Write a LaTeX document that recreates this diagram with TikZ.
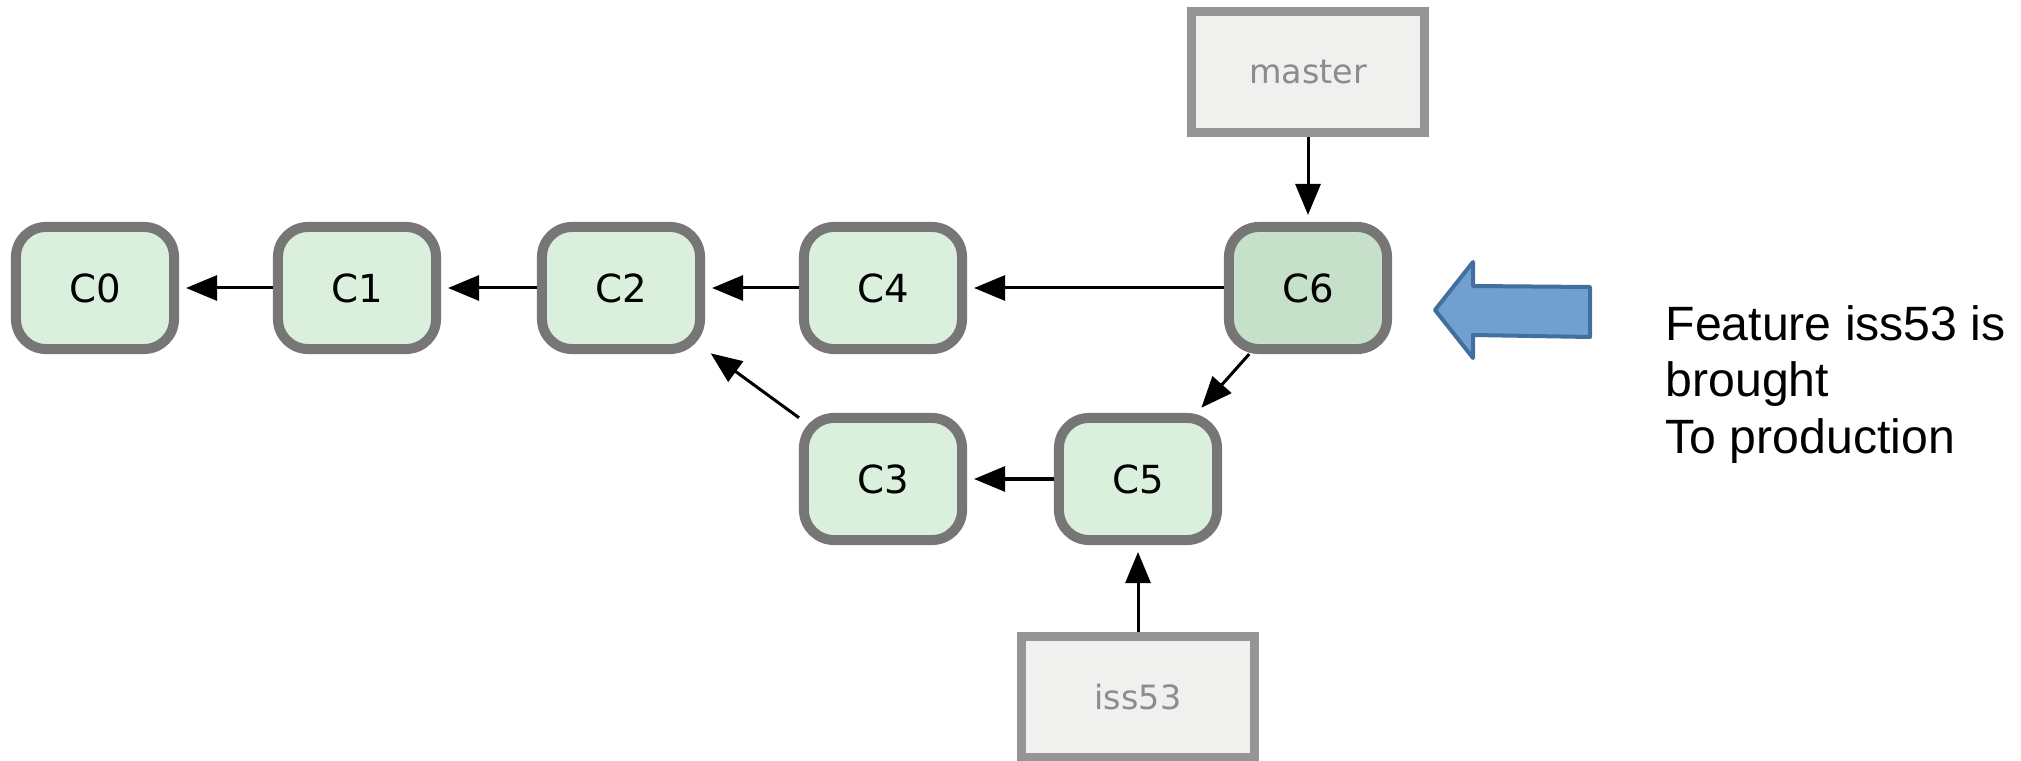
\documentclass[tikz,border=0pt]{standalone}
\usepackage{fontspec}
\setmainfont{Liberation Sans}
\newfontfamily\gitfont{DejaVu Sans}
\usetikzlibrary{arrows.meta}
\definecolor{commitfill}{HTML}{DAF0DC}
\definecolor{headfill}{HTML}{C6E0CA}
\definecolor{commitline}{HTML}{767676}
\definecolor{reffill}{HTML}{F0F1EE}
\definecolor{refline}{HTML}{959595}
\definecolor{reftext}{HTML}{8C8C8C}
\definecolor{pointfill}{HTML}{709FD0}
\definecolor{pointline}{HTML}{41709F}
\tikzset{
  >={Triangle[length=3.1mm,width=2.5mm]}
}

\begin{document}
\begin{tikzpicture}[x=0.01cm,y=-0.01cm,
    commit/.style={draw=commitline,fill=commitfill,line width=1mm,
      rounded corners=3mm,minimum width=1.58cm,minimum height=1.22cm,
      font=\gitfont\fontsize{11}{13}\selectfont},
    ref/.style={draw=refline,fill=reffill,line width=0.9mm,
      minimum width=2.32cm,minimum height=1.21cm,text=reftext,
      font=\gitfont\fontsize{9.5}{11}\selectfont},
    link/.style={->,line width=0.3mm,shorten >=0.7mm}]
      \useasboundingbox (0,0) rectangle (2021,761);
      \node[commit] (c0) at (95,288) {C0};
      \node[commit] (c1) at (357,288) {C1};
      \node[commit] (c2) at (621,288) {C2};
      \node[commit] (c4) at (883,288) {C4};
      \node[commit,fill=headfill] (c6) at (1308,288) {C6};
      \node[commit] (c3) at (883,479) {C3};
      \node[commit] (c5) at (1138,479) {C5};
      \node[ref] (master) at (1308,72) {master};
      \node[ref] (iss53) at (1138,697) {iss53};
      \draw[link] (c1)--(c0);
      \draw[link] (c2)--(c1);
      \draw[link] (c4)--(c2);
      \draw[link] (c6)--(c4);
      \draw[link] (c3)--(c2);
      \draw[link] (c6)--(c5);
      \draw[link] (c5)--(c3);
      \draw[link] (master)--(c6);
      \draw[link] (iss53)--(c5);
      \draw[pointline,fill=pointfill,line width=0.4mm,line join=round]
      (1435,310)--(1473,262)--(1473,286)--(1590,287)--(1590,337)
      --(1473,335)--(1473,358)--cycle;
      \node[anchor=north west,align=left,inner sep=0,
        font=\fontsize{13.7}{16}\selectfont] (note) at (1665,305)
      {Feature iss53 is\\brought\\To production};
    \end{tikzpicture}
\end{document}
